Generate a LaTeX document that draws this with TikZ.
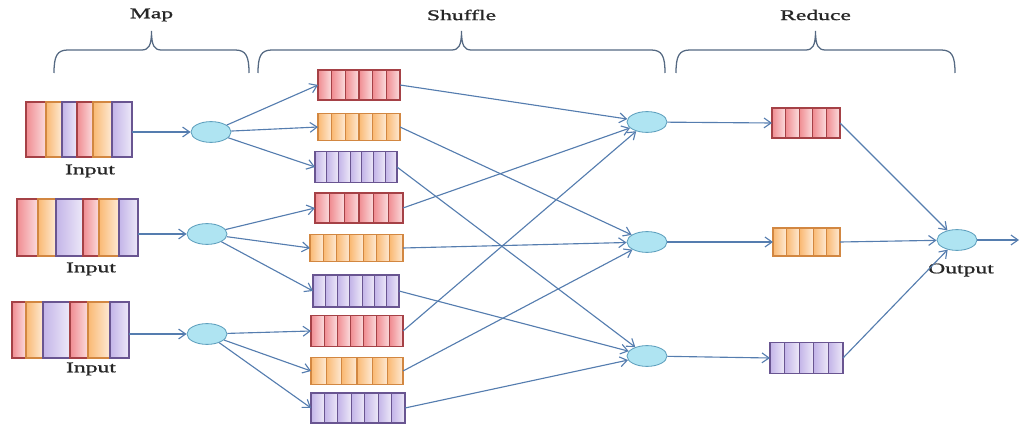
\documentclass[tikz,border=0pt]{standalone}
\usepackage{fontspec}
\newfontfamily\lblfont[FakeStretch=1.6,FakeBold=1.2]{Liberation Serif}
\usetikzlibrary{arrows.meta,shapes.geometric}

\definecolor{pinkfill}{RGB}{240,140,145}
\definecolor{pinkline}{RGB}{165,65,70}
\definecolor{orangefill}{RGB}{250,185,115}
\definecolor{orangeline}{RGB}{210,135,65}
\definecolor{purplefill}{RGB}{195,180,232}
\definecolor{purpleline}{RGB}{105,85,145}
\definecolor{blobfill}{RGB}{175,228,242}
\definecolor{blobline}{RGB}{95,160,190}
\definecolor{flowc}{RGB}{85,125,175}
\definecolor{bracec}{RGB}{85,105,130}

\tikzset{
  qcell/.style={draw=#1line, line width=0.9pt, left color=#1fill, right color=#1fill!30!white},
  blob/.style={ellipse, draw=blobline, fill=blobfill, line width=0.6pt,
    minimum width=1cm, minimum height=0.52cm, inner sep=0pt},
  flow/.style={draw=flowc, line width=0.8pt, -{Straight Barb[length=5pt,width=7pt]}},
  phase/.style={draw=bracec, line width=0.9pt},
  lbl/.style={font=\lblfont\fontsize{10.5}{12}\selectfont, text=black!85, inner sep=1pt}
}

% evenly split block: name, left, right, centre, height, cells, colour
\newcommand{\qblock}[7]{%
  \foreach \i in {1,...,#6}
    \draw[qcell=#7] ({#2+(\i-1)*(#3-#2)/#6},{#4-#5/2}) rectangle ({#2+\i*(#3-#2)/#6},{#4+#5/2});
  \coordinate (#1-w) at (#2,#4);
  \coordinate (#1-e) at (#3,#4);
}
% input block: name, top, bottom, list of left/right/colour
\newcommand{\inblock}[4]{%
  \foreach \a/\b/\c in {#4}
    \draw[qcell=\c] (\a,#2) rectangle (\b,#3);
}
% curly brace over a phase: name, left, right, label
\newcommand{\phasebrace}[4]{%
  \draw[phase] (#2,73) .. controls (#2,56) and ({#2+3},50) .. ({#2+14},50)
    -- ({(#2+#3)/2-10},50) .. controls ({(#2+#3)/2-3},50) and ({(#2+#3)/2},46) .. ({(#2+#3)/2},31)
    .. controls ({(#2+#3)/2},46) and ({(#2+#3)/2+3},50) .. ({(#2+#3)/2+10},50)
    -- ({#3-14},50) .. controls ({#3-3},50) and (#3,56) .. (#3,73);
  \node[lbl] (#1) at ({(#2+#3)/2},15) {#4};
}

\begin{document}
\begin{tikzpicture}[x=0.025cm, y=-0.025cm]
\useasboundingbox (0,0) rectangle (1020,426);

\phasebrace{map}{54}{249}{Map}
\phasebrace{shuffle}{258}{665}{Shuffle}
\phasebrace{reduce}{676}{955}{Reduce}

% inputs
\inblock{in1}{102}{157}{26/46/pink, 46/62/orange, 62/77/purple, 77/93/pink, 93/112/orange, 112/132/purple}
\inblock{in2}{199}{256}{17/38/pink, 38/56/orange, 56/83/purple, 83/99/pink, 99/119/orange, 119/138/purple}
\inblock{in3}{302}{358}{12/26/pink, 26/43/orange, 43/70/purple, 70/88/pink, 88/110/orange, 110/129/purple}
\coordinate (in1-e) at (132,132);
\coordinate (in2-e) at (138,234);
\coordinate (in3-e) at (129,334);
\node[lbl] (lin1) at (90,171) {Input};
\node[lbl] (lin2) at (91,269) {Input};
\node[lbl] (lin3) at (91,369) {Input};

% map
\node[blob] (m1) at (211,132) {};
\node[blob] (m2) at (207,234) {};
\node[blob] (m3) at (207,334) {};

% shuffle
\qblock{s1}{318}{400}{85}{30}{6}{pink}
\qblock{s2}{318}{400}{127}{27}{6}{orange}
\qblock{s3}{315}{397}{167}{31}{7}{purple}
\qblock{s4}{315}{403}{208}{30}{6}{pink}
\qblock{s5}{310}{403}{248}{27}{7}{orange}
\qblock{s6}{313}{399}{291}{32}{7}{purple}
\qblock{s7}{311}{403}{331}{31}{7}{pink}
\qblock{s8}{311}{403}{371}{27}{6}{orange}
\qblock{s9}{311}{405}{408}{30}{7}{purple}

% reduce
\node[blob] (k1) at (647,122) {};
\node[blob] (k2) at (647,242) {};
\node[blob] (k3) at (647,356) {};
\qblock{r1}{772}{840}{123}{30}{5}{pink}
\qblock{r2}{773}{840}{242}{28}{5}{orange}
\qblock{r3}{770}{843}{358}{31}{5}{purple}

% output
\node[blob] (out) at (957,240) {};
\node[lbl] (lout) at (961,270) {Output};
\coordinate (exit) at (1019,240);

\foreach \n in {1,2,3}
  \draw[flow] (in\n-e) -- (m\n);
\foreach \s in {1,2,3} \draw[flow] (m1) -- (s\s-w);
\foreach \s in {4,5,6} \draw[flow] (m2) -- (s\s-w);
\foreach \s in {7,8,9} \draw[flow] (m3) -- (s\s-w);
\foreach \s/\k in {1/1,4/1,7/1,2/2,5/2,8/2,3/3,6/3,9/3}
  \draw[flow] (s\s-e) -- (k\k);
\foreach \k in {1,2,3} {
  \draw[flow] (k\k) -- (r\k-w);
  \draw[flow] (r\k-e) -- (out);
}
\draw[flow] (out) -- (exit);
\end{tikzpicture}
\end{document}
